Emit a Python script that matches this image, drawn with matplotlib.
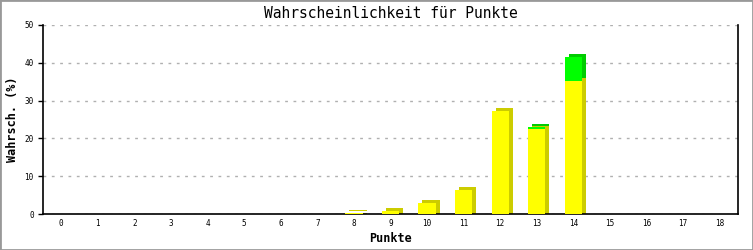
import numpy as np
import matplotlib
matplotlib.use("Agg")
import matplotlib.pyplot as plt
import matplotlib.transforms as mtransforms
from matplotlib.patches import Rectangle

# DONNEES
punkte = np.arange(19)
gelb = np.array([0, 0, 0, 0, 0, 0, 0, 0, 0.3, 0.7, 3.0, 6.4, 27.2, 22.5, 35.2, 0, 0, 0, 0])
gruen = np.array([0, 0, 0, 0, 0, 0, 0, 0, 0, 0, 0, 0, 0, 0.6, 6.4, 0, 0, 0, 0])
yticks = [0, 10, 20, 30, 40, 50]

mono = "DejaVu Sans Mono"
breite = 0.47

fig = plt.figure(figsize=(7.53, 2.50), dpi=100)
ax = fig.add_axes([43 / 753, 36 / 250, 695 / 753, 189 / 250])

# ombre 3D : decalage de 4 px a droite, 3 px en haut
decal = mtransforms.ScaledTranslation(4 / 100, 3 / 100, fig.dpi_scale_trans)
tr_ombre = ax.transData + decal
# la face laterale descend jusqu'a la ligne de base
decal_bas = mtransforms.ScaledTranslation(4 / 100, 0, fig.dpi_scale_trans)

m = gelb > 0
ax.bar(punkte[m], gelb[m], width=breite, color="#cccc00", transform=tr_ombre, zorder=2)
ax.bar(punkte[m], gelb[m], width=breite, color="#cccc00",
       transform=ax.transData + decal_bas, zorder=2)
m2 = gruen > 0
ax.bar(punkte[m2], gruen[m2], bottom=gelb[m2], width=breite, color="#00cc00",
       transform=tr_ombre, zorder=2)
ax.bar(punkte[m], gelb[m], width=breite, color="#ffff00", zorder=3)
ax.bar(punkte[m2], gruen[m2], bottom=gelb[m2], width=breite, color="#00ff00", zorder=3)

ax.set_xlim(-0.5, 18.5)
ax.set_ylim(0, 50)
ax.set_xticks(punkte)
ax.set_yticks(yticks)
ax.set_xticklabels([str(p) for p in punkte], fontfamily=mono, fontsize=5.5)
ax.set_yticklabels([str(t) for t in yticks], fontfamily=mono, fontsize=5.5)
ax.tick_params(axis="x", length=0, pad=3.5)
ax.tick_params(axis="y", length=3.6, width=1, pad=3)

ax.grid(axis="y", color="#b0b0b0", linestyle=(0, (2, 4)), linewidth=1, zorder=1)
ax.set_axisbelow(True)
ax.spines["top"].set_visible(False)
for s in ["left", "bottom", "right"]:
    ax.spines[s].set_linewidth(1.2)
    ax.spines[s].set_color("black")

ax.set_title("Wahrscheinlichkeit für Punkte", fontfamily=mono, fontsize=10.5, pad=5)
ax.set_xlabel("Punkte", fontfamily=mono, fontsize=8.5, fontweight="bold", labelpad=3)
ax.set_ylabel("Wahrsch. (%)", fontfamily=mono, fontsize=8.5, fontweight="bold", labelpad=4)

# cadre gris
fig.patches.append(Rectangle((0, 0), 1, 1, transform=fig.transFigure, fill=False,
                             edgecolor="#999999", linewidth=2))

plt.savefig("out.png", dpi=100)
